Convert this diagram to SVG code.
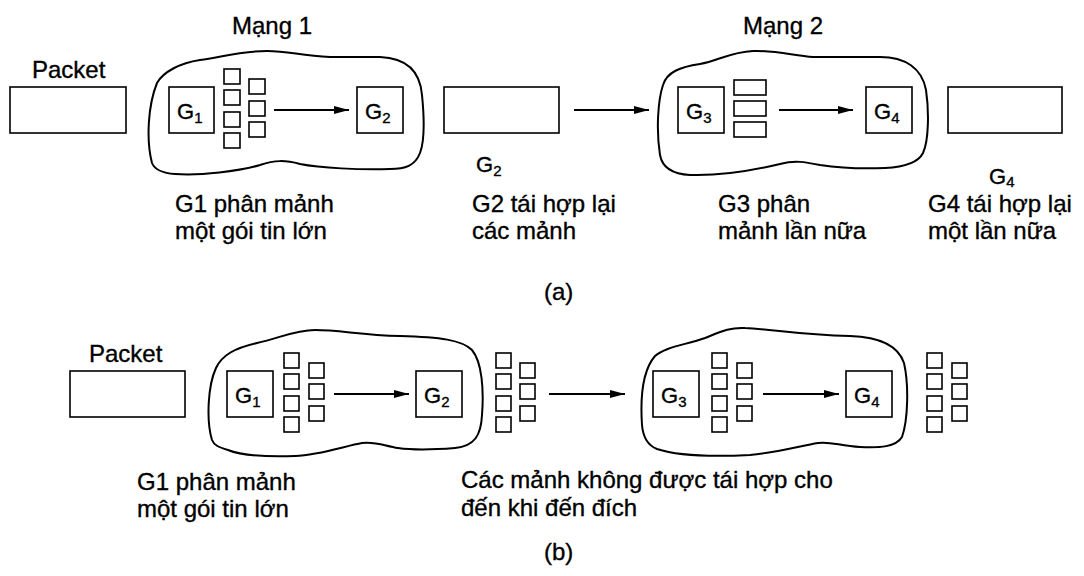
<svg xmlns="http://www.w3.org/2000/svg" width="1084" height="576" viewBox="0 0 1084 576">
  <style>
    text { font-family: "Liberation Sans", Arial, sans-serif; fill: #000; stroke: #000; stroke-width: 0.35; }
    .lbl { font-size: 24px; }
    .g { font-size: 22px; }
    .sub { font-size: 15px; }
    .box { fill: #fff; stroke: #000; stroke-width: 1.6; }
    .frag { fill: #fff; stroke: #000; stroke-width: 1.6; }
    .cloud { fill: none; stroke: #000; stroke-width: 2; stroke-linejoin: round; }
    .conn { fill: none; stroke: #000; stroke-width: 2; marker-end: url(#head); }
  </style>
  <defs>
    <marker id="head" markerUnits="userSpaceOnUse" markerWidth="16" markerHeight="10" refX="15" refY="5" orient="auto">
      <path d="M0,1 L15,5 L0,9 Z" fill="#000"/>
    </marker>
  </defs>

  <rect width="1084" height="576" fill="#fff"/>

  <!-- ===== (a) reassembly at every gateway ===== -->
  <g id="a-networks">
    <path class="cloud" d="M152,163 C146,140 148,105 157,83 C163,72 180,63 200,60 C222,57 240,51 267,51 C290,51 300,56 330,57 L380,57 C405,58 420,70 422,95 C424,115 425,140 420,153 C415,166 405,169 390,169 C360,170 320,168 300,164 C285,160 275,160 260,165 C240,171 200,176 175,174 C160,173 154,168 152,163 Z"/>
    <path class="cloud" d="M660,155 C656,130 658,100 663,85 C667,72 680,67 700,64 C718,61 730,52 753,51 C775,50 795,56 813,57 L880,57 C905,57 922,68 926,90 C929,110 929,140 923,153 C918,163 905,167 885,168 C860,169 840,168 820,165 C805,162 795,160 780,164 C755,170 720,176 690,175 C670,174 662,166 660,155 Z"/>
    <text class="lbl" x="232" y="34">Mạng 1</text>
    <text class="lbl" x="743" y="34">Mạng 2</text>
  </g>

  <g id="a-packet-in">
    <text class="lbl" x="32" y="78">Packet</text>
    <rect class="box" x="10" y="87" width="116" height="46"/>
  </g>

  <g id="a-g1">
    <rect class="box" x="169" y="87" width="45" height="46"/>
    <text class="g" x="177" y="119">G<tspan class="sub" dy="4">1</tspan></text>
  </g>

  <g id="a-g1-fragments">
    <rect class="frag" x="224" y="69" width="16" height="15"/>
    <rect class="frag" x="224" y="90" width="16" height="15"/>
    <rect class="frag" x="224" y="112" width="16" height="15"/>
    <rect class="frag" x="224" y="133" width="16" height="15"/>
    <rect class="frag" x="249" y="79" width="16" height="15"/>
    <rect class="frag" x="249" y="101" width="16" height="15"/>
    <rect class="frag" x="249" y="122" width="16" height="15"/>
  </g>

  <g id="a-g2">
    <rect class="box" x="357" y="87" width="46" height="46"/>
    <text class="g" x="365" y="119">G<tspan class="sub" dy="4">2</tspan></text>
  </g>

  <g id="a-packet-mid">
    <rect class="box" x="444" y="87" width="115" height="46"/>
    <text class="g" x="476" y="172">G<tspan class="sub" dy="4">2</tspan></text>
  </g>

  <g id="a-g3">
    <rect class="box" x="678" y="87" width="46" height="46"/>
    <text class="g" x="686" y="119">G<tspan class="sub" dy="4">3</tspan></text>
  </g>

  <g id="a-g3-fragments">
    <rect class="frag" x="734" y="80" width="32" height="15"/>
    <rect class="frag" x="734" y="101" width="32" height="15"/>
    <rect class="frag" x="734" y="122" width="32" height="15"/>
  </g>

  <g id="a-g4">
    <rect class="box" x="866" y="87" width="46" height="46"/>
    <text class="g" x="874" y="119">G<tspan class="sub" dy="4">4</tspan></text>
  </g>

  <g id="a-packet-out">
    <rect class="box" x="948" y="87" width="114" height="46"/>
    <text class="g" x="989" y="184">G<tspan class="sub" dy="3">4</tspan></text>
  </g>

  <g id="a-captions">
    <text class="lbl" x="175" y="212">G1 phân mảnh</text>
    <text class="lbl" x="175" y="239">một gói tin lớn</text>
    <text class="lbl" x="472" y="212">G2 tái hợp lại</text>
    <text class="lbl" x="472" y="239">các mảnh</text>
    <text class="lbl" x="718" y="212">G3 phân</text>
    <text class="lbl" x="718" y="239">mảnh lần nữa</text>
    <text class="lbl" x="928" y="212">G4 tái hợp lại</text>
    <text class="lbl" x="928" y="239">một lần nữa</text>
    <text class="lbl" x="544" y="300">(a)</text>
  </g>

  <!-- ===== (b) reassembly only at the destination ===== -->
  <g id="b-networks">
    <path class="cloud" d="M212,440 C206,420 208,385 216,368 C222,355 235,348 257,343 C280,338 295,330 315,330 C340,330 360,335 400,336 C440,337 462,340 472,350 C482,362 484,390 482,415 C481,435 475,446 455,448 C430,450 412,450 398,448 C385,446 375,441 362,443 C345,446 320,455 295,456 C265,457 240,455 228,450 C218,447 214,445 212,440 Z"/>
    <path class="cloud" d="M642,425 C640,395 643,370 655,356 C665,347 685,345 705,338 C720,332 730,327 745,328 C770,329 800,335 850,336 C880,337 898,345 904,363 C909,385 908,420 902,437 C896,447 880,448 860,447 C840,446 830,441 818,443 C800,446 780,452 750,455 C710,457 675,455 657,449 C647,445 643,437 642,425 Z"/>
  </g>

  <g id="b-packet-in">
    <text class="lbl" x="89" y="362">Packet</text>
    <rect class="box" x="70" y="371" width="115" height="46"/>
  </g>

  <g id="b-g1">
    <rect class="box" x="227" y="371" width="46" height="46"/>
    <text class="g" x="235" y="403">G<tspan class="sub" dy="4">1</tspan></text>
  </g>

  <g id="b-g1-fragments">
    <rect class="frag" x="284" y="353" width="15" height="15"/>
    <rect class="frag" x="284" y="374" width="15" height="15"/>
    <rect class="frag" x="284" y="396" width="15" height="15"/>
    <rect class="frag" x="284" y="417" width="15" height="15"/>
    <rect class="frag" x="309" y="363" width="15" height="15"/>
    <rect class="frag" x="309" y="384" width="15" height="15"/>
    <rect class="frag" x="309" y="406" width="15" height="15"/>
  </g>

  <g id="b-g2">
    <rect class="box" x="416" y="371" width="46" height="46"/>
    <text class="g" x="424" y="403">G<tspan class="sub" dy="4">2</tspan></text>
  </g>

  <g id="b-mid-fragments">
    <rect class="frag" x="496" y="353" width="15" height="15"/>
    <rect class="frag" x="496" y="374" width="15" height="15"/>
    <rect class="frag" x="496" y="396" width="15" height="15"/>
    <rect class="frag" x="496" y="417" width="15" height="15"/>
    <rect class="frag" x="520" y="363" width="15" height="15"/>
    <rect class="frag" x="520" y="384" width="15" height="15"/>
    <rect class="frag" x="520" y="406" width="15" height="15"/>
  </g>

  <g id="b-g3">
    <rect class="box" x="653" y="371" width="46" height="46"/>
    <text class="g" x="661" y="403">G<tspan class="sub" dy="4">3</tspan></text>
  </g>

  <g id="b-g3-fragments">
    <rect class="frag" x="712" y="353" width="15" height="15"/>
    <rect class="frag" x="712" y="374" width="15" height="15"/>
    <rect class="frag" x="712" y="396" width="15" height="15"/>
    <rect class="frag" x="712" y="417" width="15" height="15"/>
    <rect class="frag" x="737" y="363" width="15" height="15"/>
    <rect class="frag" x="737" y="384" width="15" height="15"/>
    <rect class="frag" x="737" y="406" width="15" height="15"/>
  </g>

  <g id="b-g4">
    <rect class="box" x="846" y="371" width="46" height="46"/>
    <text class="g" x="854" y="403">G<tspan class="sub" dy="4">4</tspan></text>
  </g>

  <g id="b-out-fragments">
    <rect class="frag" x="927" y="353" width="15" height="15"/>
    <rect class="frag" x="927" y="374" width="15" height="15"/>
    <rect class="frag" x="927" y="396" width="15" height="15"/>
    <rect class="frag" x="927" y="417" width="15" height="15"/>
    <rect class="frag" x="952" y="363" width="15" height="15"/>
    <rect class="frag" x="952" y="384" width="15" height="15"/>
    <rect class="frag" x="952" y="406" width="15" height="15"/>
  </g>

  <g id="b-captions">
    <text class="lbl" x="137" y="490">G1 phân mảnh</text>
    <text class="lbl" x="137" y="517">một gói tin lớn</text>
    <text class="lbl" x="461" y="488">Các mảnh không được tái hợp cho</text>
    <text class="lbl" x="461" y="516">đến khi đến đích</text>
    <text class="lbl" x="544" y="560">(b)</text>
  </g>

  <!-- connectors -->
  <g id="connectors">
    <line class="conn" x1="274" y1="110" x2="349" y2="110"/>
    <line class="conn" x1="574" y1="110" x2="649" y2="110"/>
    <line class="conn" x1="779" y1="110" x2="853" y2="110"/>
    <line class="conn" x1="334" y1="394" x2="409" y2="394"/>
    <line class="conn" x1="549" y1="394" x2="625" y2="394"/>
    <line class="conn" x1="763" y1="394" x2="839" y2="394"/>
  </g>
</svg>
